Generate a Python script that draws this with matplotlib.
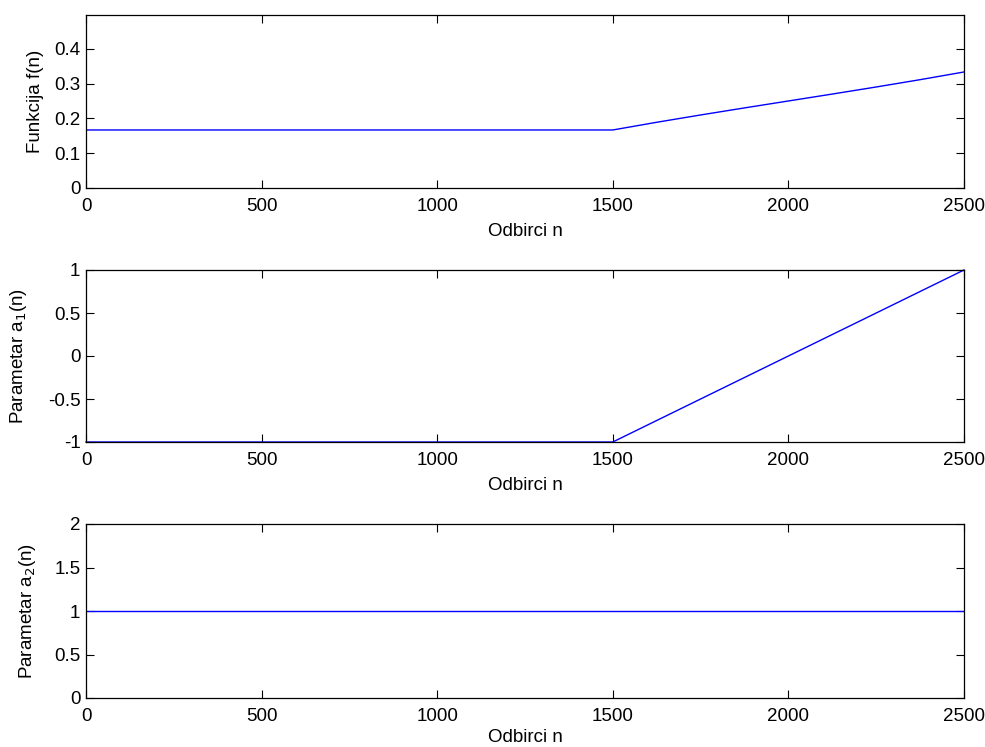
import matplotlib
matplotlib.use("Agg")
import matplotlib.pyplot as plt

# samples where the curves change slope
n_f = [0, 1500, 1625, 1750, 1875, 2000, 2125, 2250, 2375, 2500]
f_vals = [0.1667, 0.1667, 0.1888, 0.2098, 0.2301, 0.25, 0.2699, 0.2902, 0.3112, 0.3333]

n_a = [0, 1500, 2500]
a1_vals = [-1.0, -1.0, 1.0]
a2_vals = [1.0, 1.0, 1.0]

xticks = [0, 500, 1000, 1500, 2000, 2500]

plt.rcParams["font.family"] = ["Liberation Sans", "DejaVu Sans"]
FS = 13.5

fig = plt.figure(figsize=(9.85, 7.47), dpi=100)
W, H = 985.0, 747.0


def box(l, t, r, b):
    return [l / W, 1 - b / H, (r - l) / W, (b - t) / H]


def style(ax, yticks, ylim, ylabel, ylab_x, xpad=6):
    ax.set_xlim(0, 2500)
    ax.set_ylim(*ylim)
    ax.set_xticks(xticks)
    ax.set_yticks(yticks)
    ax.set_yticklabels([f"{v:g}" for v in yticks])
    ax.tick_params(direction="in", length=6, width=0.8, top=True, right=True,
                   labelsize=FS)
    ax.tick_params(axis="x", pad=7)
    ax.tick_params(axis="y", pad=4)
    for s in ax.spines.values():
        s.set_linewidth(0.9)
    ax.set_xlabel("Odbirci n", fontsize=FS, labelpad=xpad)
    ax.set_ylabel(ylabel, fontsize=FS)
    ax.yaxis.set_label_coords(ylab_x, 0.5)


ax1 = fig.add_axes(box(86, 15, 964, 188))
ax1.plot(n_f, f_vals, color="blue", lw=1.0)
style(ax1, [0, 0.1, 0.2, 0.3, 0.4], (0, 0.497), "Funkcija f(n)", -0.048)

ax2 = fig.add_axes(box(86, 270, 964, 442))
ax2.plot(n_a, a1_vals, color="blue", lw=1.0, clip_on=False)
style(ax2, [-1, -0.5, 0, 0.5, 1], (-1, 1), r"Parametar a$_1$(n)", -0.065)

ax3 = fig.add_axes(box(86, 524, 964, 698))
ax3.plot(n_a, a2_vals, color="blue", lw=1.0)
style(ax3, [0, 0.5, 1, 1.5, 2], (0, 2), r"Parametar a$_2$(n)", -0.055, xpad=3)

fig.savefig("out.png", dpi=100, facecolor="white")
